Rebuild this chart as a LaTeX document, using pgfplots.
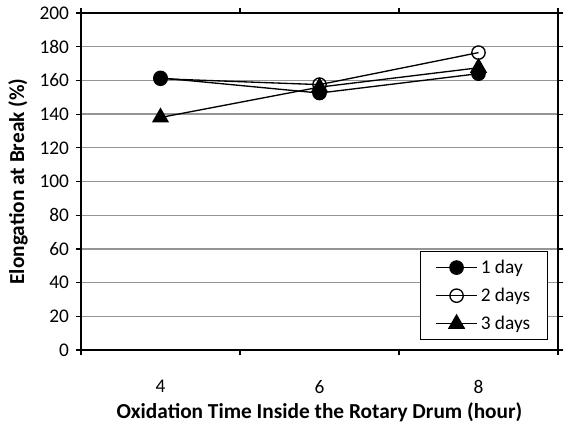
\documentclass[border=0pt]{standalone}
\usepackage{pgfplots}
\pgfplotsset{compat=1.18}
\usepackage{fontspec}
\setmainfont{Carlito}
\begin{document}
\begin{tikzpicture}
\begin{axis}[
  scale only axis,
  width=357.75pt, height=252.75pt,
  xmin=3, xmax=9, ymin=0, ymax=200,
  xtick={4,6,8}, major x tick style={draw=none},
  minor xtick={3,5,7,9},
  ytick={0,20,...,200},
  ymajorgrids, grid style={color=black!42, line width=1pt},
  tick align=outside, major tick length=4pt, minor tick length=4pt,
  x tick style={black, line width=0.9pt}, y tick style={black, line width=0.9pt},
  axis line style={black, line width=1pt},
  ticklabel style={font=\fontsize{14.5}{16}\selectfont},
  /pgf/number format/assume math mode=true,
  xticklabel style={yshift=-15pt},
  yticklabel style={xshift=-1.5pt},
  xlabel={\textbf{Oxidation Time Inside the Rotary Drum (hour)}},
  ylabel={\textbf{Elongation at Break (\%)}},
  label style={font=\fontsize{16}{18}\selectfont},
  xlabel style={yshift=0pt},
  ylabel style={yshift=2pt},
  legend style={at={(rel axis cs:1,0)}, anchor=south east, xshift=-7.5pt, yshift=7.5pt,
    draw=black, line width=0.8pt, font=\fontsize{14.5}{16}\selectfont, row sep=5.5pt,
    inner xsep=11pt, inner ysep=4pt},
  legend cell align=left,
  legend image code/.code={\draw[mark repeat=2,mark phase=2] plot coordinates {(0cm,0cm)(0.55cm,0cm)(1.1cm,0cm)};},
]
\addplot[black, line width=1pt, mark=*, mark size=5pt, mark options={fill=black}] coordinates {(4,161.5) (6,152.5) (8,164)};
\addlegendentry{1 day}
\addplot[black, line width=1pt, mark=o, mark size=5pt, mark options={fill=white}] coordinates {(4,161) (6,157.5) (8,176.5)};
\addlegendentry{2 days}
\addplot[black, line width=1pt, mark=triangle*, mark size=6.5pt, mark options={fill=black}] coordinates {(4,138) (6,156) (8,167.5)};
\addlegendentry{3 days}
\end{axis}
\pgfresetboundingbox
\useasboundingbox (current axis.south west) ++(-60.75pt,-54pt) rectangle ([xshift=5.25pt,yshift=9.75pt]current axis.north east);
\end{tikzpicture}
\end{document}
